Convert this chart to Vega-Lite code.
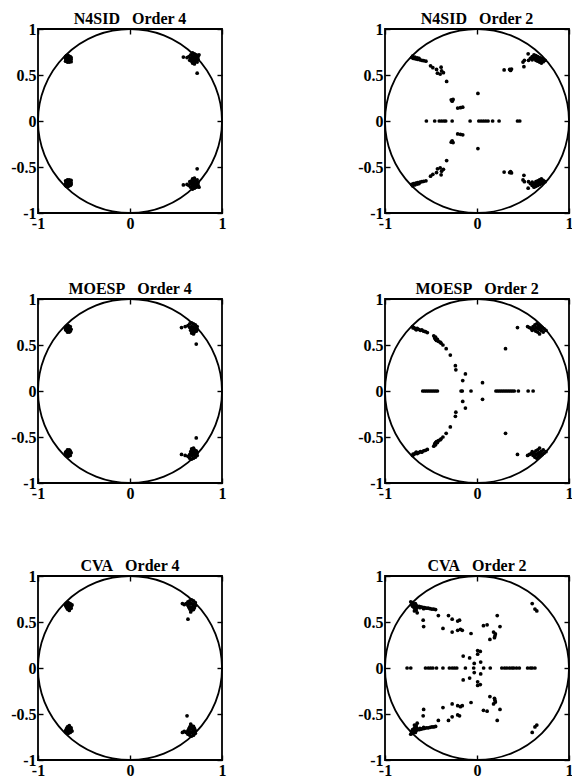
{
"$schema":"https://vega.github.io/schema/vega-lite/v6.json",
"padding":{"left":9,"top":10,"right":0,"bottom":0},
"background":"white",
"config":{
 "view":{"stroke":"black","strokeWidth":1.8},
 "axis":{"grid":false,"domain":false,"tickColor":"black","tickSize":-5,"tickWidth":1.4,"labelFont":"Liberation Serif","labelFontSize":16,"labelFontWeight":"bold","labelColor":"black","labelPadding":7,"labelFlush":false},
 "title":{"font":"Liberation Serif","fontSize":16,"fontWeight":"bold","color":"black","offset":-6,"anchor":"middle"}
},
"datasets":{
 "origin":[{"x":0,"y":0}],
 "n4":[
{"x":-0.70,"y":0.70},{"x":-0.69,"y":0.71},{"x":-0.67,"y":0.71},{"x":-0.65,"y":0.70},{"x":-0.64,"y":0.69},{"x":-0.70,"y":0.68},{"x":-0.68,"y":0.68},{"x":-0.66,"y":0.68},{"x":-0.64,"y":0.67},{"x":-0.69,"y":0.66},{"x":-0.67,"y":0.66},{"x":-0.65,"y":0.65},{"x":-0.70,"y":0.65},{"x":-0.68,"y":0.64},{"x":-0.66,"y":0.64},{"x":-0.64,"y":0.645},{"x":-0.67,"y":0.69},{"x":-0.65,"y":0.675},{"x":-0.69,"y":0.69},{"x":-0.66,"y":0.655},
{"x":0.64,"y":0.70},{"x":0.66,"y":0.72},{"x":0.68,"y":0.74},{"x":0.70,"y":0.73},{"x":0.72,"y":0.72},{"x":0.74,"y":0.70},{"x":0.66,"y":0.68},{"x":0.68,"y":0.70},{"x":0.70,"y":0.69},{"x":0.72,"y":0.68},{"x":0.74,"y":0.67},{"x":0.67,"y":0.65},{"x":0.69,"y":0.66},{"x":0.71,"y":0.65},{"x":0.73,"y":0.64},{"x":0.68,"y":0.63},{"x":0.70,"y":0.62},{"x":0.62,"y":0.69},{"x":0.58,"y":0.695},{"x":0.75,"y":0.72},{"x":0.65,"y":0.66},{"x":0.73,"y":0.52},{"x":0.69,"y":0.68},{"x":0.71,"y":0.71},
{"x":-0.70,"y":-0.70},{"x":-0.69,"y":-0.71},{"x":-0.67,"y":-0.71},{"x":-0.65,"y":-0.70},{"x":-0.64,"y":-0.69},{"x":-0.70,"y":-0.68},{"x":-0.68,"y":-0.68},{"x":-0.66,"y":-0.68},{"x":-0.64,"y":-0.67},{"x":-0.69,"y":-0.66},{"x":-0.67,"y":-0.66},{"x":-0.65,"y":-0.65},{"x":-0.70,"y":-0.65},{"x":-0.68,"y":-0.64},{"x":-0.66,"y":-0.64},{"x":-0.64,"y":-0.645},{"x":-0.67,"y":-0.69},{"x":-0.65,"y":-0.675},{"x":-0.69,"y":-0.69},{"x":-0.66,"y":-0.655},
{"x":0.64,"y":-0.70},{"x":0.66,"y":-0.72},{"x":0.68,"y":-0.74},{"x":0.70,"y":-0.73},{"x":0.72,"y":-0.72},{"x":0.74,"y":-0.70},{"x":0.66,"y":-0.68},{"x":0.68,"y":-0.70},{"x":0.70,"y":-0.69},{"x":0.72,"y":-0.68},{"x":0.74,"y":-0.67},{"x":0.67,"y":-0.65},{"x":0.69,"y":-0.66},{"x":0.71,"y":-0.65},{"x":0.73,"y":-0.64},{"x":0.68,"y":-0.63},{"x":0.70,"y":-0.62},{"x":0.62,"y":-0.69},{"x":0.58,"y":-0.695},{"x":0.75,"y":-0.72},{"x":0.65,"y":-0.66},{"x":0.73,"y":-0.52},{"x":0.69,"y":-0.68},{"x":0.71,"y":-0.71}
 ],
 "m4":[
{"x":-0.69,"y":0.70},{"x":-0.67,"y":0.71},{"x":-0.65,"y":0.70},{"x":-0.70,"y":0.68},{"x":-0.68,"y":0.68},{"x":-0.66,"y":0.68},{"x":-0.64,"y":0.67},{"x":-0.69,"y":0.66},{"x":-0.67,"y":0.66},{"x":-0.65,"y":0.65},{"x":-0.68,"y":0.64},{"x":-0.66,"y":0.64},{"x":-0.67,"y":0.69},{"x":-0.65,"y":0.675},{"x":-0.70,"y":0.665},{"x":-0.66,"y":0.655},
{"x":0.56,"y":0.69},{"x":0.60,"y":0.70},{"x":0.63,"y":0.71},{"x":0.65,"y":0.73},{"x":0.67,"y":0.74},{"x":0.69,"y":0.73},{"x":0.71,"y":0.72},{"x":0.73,"y":0.70},{"x":0.65,"y":0.69},{"x":0.67,"y":0.70},{"x":0.69,"y":0.69},{"x":0.71,"y":0.68},{"x":0.73,"y":0.67},{"x":0.66,"y":0.66},{"x":0.68,"y":0.65},{"x":0.70,"y":0.64},{"x":0.72,"y":0.65},{"x":0.67,"y":0.63},{"x":0.69,"y":0.62},{"x":0.70,"y":0.66},{"x":0.68,"y":0.67},{"x":0.72,"y":0.51},
{"x":-0.69,"y":-0.70},{"x":-0.67,"y":-0.71},{"x":-0.65,"y":-0.70},{"x":-0.70,"y":-0.68},{"x":-0.68,"y":-0.68},{"x":-0.66,"y":-0.68},{"x":-0.64,"y":-0.67},{"x":-0.69,"y":-0.66},{"x":-0.67,"y":-0.66},{"x":-0.65,"y":-0.65},{"x":-0.68,"y":-0.64},{"x":-0.66,"y":-0.64},{"x":-0.67,"y":-0.69},{"x":-0.65,"y":-0.675},{"x":-0.70,"y":-0.665},{"x":-0.66,"y":-0.655},
{"x":0.56,"y":-0.69},{"x":0.60,"y":-0.70},{"x":0.63,"y":-0.71},{"x":0.65,"y":-0.73},{"x":0.67,"y":-0.74},{"x":0.69,"y":-0.73},{"x":0.71,"y":-0.72},{"x":0.73,"y":-0.70},{"x":0.65,"y":-0.69},{"x":0.67,"y":-0.70},{"x":0.69,"y":-0.69},{"x":0.71,"y":-0.68},{"x":0.73,"y":-0.67},{"x":0.66,"y":-0.66},{"x":0.68,"y":-0.65},{"x":0.70,"y":-0.64},{"x":0.72,"y":-0.65},{"x":0.67,"y":-0.63},{"x":0.69,"y":-0.62},{"x":0.70,"y":-0.66},{"x":0.68,"y":-0.67},{"x":0.72,"y":-0.51}
 ],
 "c4":[
{"x":-0.69,"y":0.70},{"x":-0.67,"y":0.71},{"x":-0.65,"y":0.70},{"x":-0.63,"y":0.685},{"x":-0.70,"y":0.68},{"x":-0.68,"y":0.68},{"x":-0.66,"y":0.68},{"x":-0.64,"y":0.67},{"x":-0.69,"y":0.66},{"x":-0.67,"y":0.66},{"x":-0.65,"y":0.65},{"x":-0.68,"y":0.64},{"x":-0.66,"y":0.64},{"x":-0.64,"y":0.65},{"x":-0.67,"y":0.69},{"x":-0.66,"y":0.625},
{"x":0.57,"y":0.70},{"x":0.59,"y":0.69},{"x":0.61,"y":0.70},{"x":0.63,"y":0.72},{"x":0.65,"y":0.73},{"x":0.67,"y":0.74},{"x":0.69,"y":0.73},{"x":0.71,"y":0.71},{"x":0.63,"y":0.68},{"x":0.65,"y":0.70},{"x":0.67,"y":0.70},{"x":0.69,"y":0.69},{"x":0.71,"y":0.68},{"x":0.64,"y":0.66},{"x":0.66,"y":0.665},{"x":0.68,"y":0.66},{"x":0.70,"y":0.655},{"x":0.65,"y":0.64},{"x":0.67,"y":0.63},{"x":0.69,"y":0.635},{"x":0.66,"y":0.61},{"x":0.63,"y":0.53},
{"x":-0.69,"y":-0.70},{"x":-0.67,"y":-0.71},{"x":-0.65,"y":-0.70},{"x":-0.63,"y":-0.685},{"x":-0.70,"y":-0.68},{"x":-0.68,"y":-0.68},{"x":-0.66,"y":-0.68},{"x":-0.64,"y":-0.67},{"x":-0.69,"y":-0.66},{"x":-0.67,"y":-0.66},{"x":-0.65,"y":-0.65},{"x":-0.68,"y":-0.64},{"x":-0.66,"y":-0.64},{"x":-0.64,"y":-0.65},{"x":-0.67,"y":-0.69},{"x":-0.66,"y":-0.625},
{"x":0.57,"y":-0.70},{"x":0.59,"y":-0.69},{"x":0.61,"y":-0.70},{"x":0.63,"y":-0.72},{"x":0.65,"y":-0.73},{"x":0.67,"y":-0.74},{"x":0.69,"y":-0.73},{"x":0.71,"y":-0.71},{"x":0.63,"y":-0.68},{"x":0.65,"y":-0.70},{"x":0.67,"y":-0.70},{"x":0.69,"y":-0.69},{"x":0.71,"y":-0.68},{"x":0.64,"y":-0.66},{"x":0.66,"y":-0.665},{"x":0.68,"y":-0.66},{"x":0.70,"y":-0.655},{"x":0.65,"y":-0.64},{"x":0.67,"y":-0.63},{"x":0.69,"y":-0.635},{"x":0.66,"y":-0.61},{"x":0.62,"y":-0.52}
 ],
 "n2":[
{"x":-0.71,"y":0.69},{"x":-0.69,"y":0.68},{"x":-0.665,"y":0.675},{"x":-0.645,"y":0.67},{"x":-0.62,"y":0.665},{"x":-0.60,"y":0.66},{"x":-0.58,"y":0.655},{"x":-0.555,"y":0.65},{"x":-0.70,"y":0.705},{"x":-0.675,"y":0.695},{"x":-0.65,"y":0.685},{"x":-0.63,"y":0.68},
{"x":-0.505,"y":0.60},{"x":-0.48,"y":0.58},
{"x":-0.44,"y":0.56},{"x":-0.43,"y":0.52},{"x":-0.39,"y":0.585},{"x":-0.365,"y":0.525},{"x":-0.40,"y":0.51},{"x":-0.385,"y":0.545},
{"x":-0.33,"y":0.43},
{"x":-0.28,"y":0.23},{"x":-0.26,"y":0.235},{"x":-0.27,"y":0.215},
{"x":-0.21,"y":0.14},{"x":-0.18,"y":0.145},{"x":-0.155,"y":0.15},
{"x":0.01,"y":0.30},
{"x":0.295,"y":0.555},{"x":0.355,"y":0.56},{"x":0.375,"y":0.565},{"x":0.365,"y":0.55},
{"x":0.51,"y":0.59},{"x":0.50,"y":0.64},{"x":0.515,"y":0.66},{"x":0.556,"y":0.73},
{"x":0.56,"y":0.66},{"x":0.58,"y":0.68},{"x":0.60,"y":0.70},{"x":0.62,"y":0.72},{"x":0.64,"y":0.71},{"x":0.66,"y":0.70},{"x":0.68,"y":0.69},{"x":0.70,"y":0.68},{"x":0.72,"y":0.67},{"x":0.74,"y":0.66},{"x":0.62,"y":0.68},{"x":0.64,"y":0.66},{"x":0.66,"y":0.65},{"x":0.68,"y":0.64},{"x":0.70,"y":0.63},{"x":0.72,"y":0.645},{"x":0.66,"y":0.68},{"x":0.70,"y":0.66},{"x":0.60,"y":0.665},{"x":0.68,"y":0.665},{"x":0.64,"y":0.69},
{"x":-0.55,"y":0},{"x":-0.46,"y":0},{"x":-0.41,"y":0},{"x":-0.385,"y":0},{"x":-0.36,"y":0},{"x":-0.34,"y":0},{"x":-0.27,"y":0},{"x":-0.075,"y":0},{"x":0.02,"y":0},{"x":0.045,"y":0},{"x":0.07,"y":0},{"x":0.095,"y":0},{"x":0.12,"y":0},{"x":0.17,"y":0},{"x":0.24,"y":0},{"x":0.44,"y":0},{"x":0.465,"y":0},
{"x":-0.71,"y":-0.69},{"x":-0.69,"y":-0.68},{"x":-0.665,"y":-0.675},{"x":-0.645,"y":-0.67},{"x":-0.62,"y":-0.665},{"x":-0.60,"y":-0.66},{"x":-0.58,"y":-0.655},{"x":-0.555,"y":-0.65},{"x":-0.70,"y":-0.705},{"x":-0.675,"y":-0.695},{"x":-0.65,"y":-0.685},{"x":-0.63,"y":-0.68},
{"x":-0.505,"y":-0.60},{"x":-0.48,"y":-0.58},
{"x":-0.44,"y":-0.56},{"x":-0.43,"y":-0.52},{"x":-0.39,"y":-0.585},{"x":-0.365,"y":-0.525},{"x":-0.40,"y":-0.51},{"x":-0.385,"y":-0.545},
{"x":-0.33,"y":-0.43},
{"x":-0.28,"y":-0.23},{"x":-0.26,"y":-0.235},{"x":-0.27,"y":-0.215},
{"x":-0.21,"y":-0.14},{"x":-0.18,"y":-0.145},{"x":-0.155,"y":-0.15},
{"x":0.01,"y":-0.30},
{"x":0.295,"y":-0.555},{"x":0.355,"y":-0.56},{"x":0.375,"y":-0.565},{"x":0.365,"y":-0.55},
{"x":0.51,"y":-0.59},{"x":0.50,"y":-0.64},{"x":0.515,"y":-0.66},{"x":0.556,"y":-0.73},
{"x":0.56,"y":-0.66},{"x":0.58,"y":-0.68},{"x":0.60,"y":-0.70},{"x":0.62,"y":-0.72},{"x":0.64,"y":-0.71},{"x":0.66,"y":-0.70},{"x":0.68,"y":-0.69},{"x":0.70,"y":-0.68},{"x":0.72,"y":-0.67},{"x":0.74,"y":-0.66},{"x":0.62,"y":-0.68},{"x":0.64,"y":-0.66},{"x":0.66,"y":-0.65},{"x":0.68,"y":-0.64},{"x":0.70,"y":-0.63},{"x":0.72,"y":-0.645},{"x":0.66,"y":-0.68},{"x":0.70,"y":-0.66},{"x":0.60,"y":-0.665},{"x":0.68,"y":-0.665},{"x":0.64,"y":-0.69}
 ],
 "m2":[
{"x":-0.70,"y":0.70},{"x":-0.685,"y":0.69},{"x":-0.67,"y":0.675},{"x":-0.65,"y":0.68},{"x":-0.635,"y":0.67},{"x":-0.615,"y":0.66},{"x":-0.60,"y":0.665},{"x":-0.58,"y":0.65},{"x":-0.56,"y":0.645},{"x":-0.54,"y":0.635},{"x":-0.695,"y":0.685},{"x":-0.66,"y":0.665},
{"x":-0.47,"y":0.60},{"x":-0.46,"y":0.575},{"x":-0.45,"y":0.56},{"x":-0.44,"y":0.55},{"x":-0.42,"y":0.54},{"x":-0.40,"y":0.53},{"x":-0.39,"y":0.52},{"x":-0.37,"y":0.50},{"x":-0.45,"y":0.585},{"x":-0.43,"y":0.56},
{"x":-0.335,"y":0.46},{"x":-0.29,"y":0.39},{"x":-0.235,"y":0.275},{"x":-0.23,"y":0.23},{"x":-0.126,"y":0.186},{"x":-0.155,"y":0.114},{"x":0.06,"y":0.09},
{"x":0.44,"y":0.69},{"x":0.31,"y":0.46},
{"x":0.55,"y":0.70},{"x":0.57,"y":0.69},{"x":0.59,"y":0.68},{"x":0.61,"y":0.70},{"x":0.63,"y":0.72},{"x":0.65,"y":0.73},{"x":0.67,"y":0.71},{"x":0.69,"y":0.70},{"x":0.71,"y":0.69},{"x":0.73,"y":0.675},{"x":0.62,"y":0.67},{"x":0.64,"y":0.65},{"x":0.66,"y":0.64},{"x":0.68,"y":0.62},{"x":0.70,"y":0.655},{"x":0.72,"y":0.64},{"x":0.66,"y":0.68},{"x":0.60,"y":0.66},{"x":0.68,"y":0.67},{"x":0.64,"y":0.69},{"x":0.75,"y":0.66},
{"x":-0.59,"y":0},{"x":-0.57,"y":0},{"x":-0.55,"y":0},{"x":-0.53,"y":0},{"x":-0.51,"y":0},{"x":-0.49,"y":0},{"x":-0.47,"y":0},{"x":-0.45,"y":0},{"x":-0.43,"y":0},{"x":-0.173,"y":0},{"x":-0.16,"y":0},{"x":-0.065,"y":0},{"x":0.206,"y":0},{"x":0.225,"y":0},{"x":0.245,"y":0},{"x":0.265,"y":0},{"x":0.285,"y":0},{"x":0.305,"y":0},{"x":0.325,"y":0},{"x":0.345,"y":0},{"x":0.365,"y":0},{"x":0.385,"y":0},{"x":0.405,"y":0},{"x":0.45,"y":0},{"x":0.556,"y":0},{"x":0.61,"y":0},
{"x":-0.70,"y":-0.70},{"x":-0.685,"y":-0.69},{"x":-0.67,"y":-0.675},{"x":-0.65,"y":-0.68},{"x":-0.635,"y":-0.67},{"x":-0.615,"y":-0.66},{"x":-0.60,"y":-0.665},{"x":-0.58,"y":-0.65},{"x":-0.56,"y":-0.645},{"x":-0.54,"y":-0.635},{"x":-0.695,"y":-0.685},{"x":-0.66,"y":-0.665},
{"x":-0.47,"y":-0.60},{"x":-0.46,"y":-0.575},{"x":-0.45,"y":-0.56},{"x":-0.44,"y":-0.55},{"x":-0.42,"y":-0.54},{"x":-0.40,"y":-0.53},{"x":-0.39,"y":-0.52},{"x":-0.37,"y":-0.50},{"x":-0.45,"y":-0.585},{"x":-0.43,"y":-0.56},
{"x":-0.335,"y":-0.46},{"x":-0.29,"y":-0.39},{"x":-0.235,"y":-0.275},{"x":-0.23,"y":-0.23},{"x":-0.126,"y":-0.186},{"x":-0.155,"y":-0.114},{"x":0.06,"y":-0.09},
{"x":0.44,"y":-0.69},{"x":0.31,"y":-0.46},
{"x":0.55,"y":-0.70},{"x":0.57,"y":-0.69},{"x":0.59,"y":-0.68},{"x":0.61,"y":-0.70},{"x":0.63,"y":-0.72},{"x":0.65,"y":-0.73},{"x":0.67,"y":-0.71},{"x":0.69,"y":-0.70},{"x":0.71,"y":-0.69},{"x":0.73,"y":-0.675},{"x":0.62,"y":-0.67},{"x":0.64,"y":-0.65},{"x":0.66,"y":-0.64},{"x":0.68,"y":-0.62},{"x":0.70,"y":-0.655},{"x":0.72,"y":-0.64},{"x":0.66,"y":-0.68},{"x":0.60,"y":-0.66},{"x":0.68,"y":-0.67},{"x":0.64,"y":-0.69},{"x":0.75,"y":-0.66}
 ],
 "c2":[
{"x":-0.72,"y":0.72},{"x":-0.70,"y":0.71},{"x":-0.69,"y":0.69},{"x":-0.70,"y":0.67},{"x":-0.68,"y":0.65},{"x":-0.67,"y":0.70},{"x":-0.66,"y":0.68},{"x":-0.65,"y":0.66},{"x":-0.68,"y":0.62},{"x":-0.66,"y":0.63},{"x":-0.65,"y":0.60},{"x":-0.71,"y":0.69},{"x":-0.67,"y":0.66},
{"x":-0.63,"y":0.67},{"x":-0.61,"y":0.665},{"x":-0.59,"y":0.66},{"x":-0.57,"y":0.655},{"x":-0.55,"y":0.65},{"x":-0.53,"y":0.65},{"x":-0.51,"y":0.645},{"x":-0.49,"y":0.64},{"x":-0.47,"y":0.64},{"x":-0.45,"y":0.635},{"x":-0.62,"y":0.655},{"x":-0.58,"y":0.645},
{"x":-0.585,"y":0.52},{"x":-0.58,"y":0.45},{"x":-0.42,"y":0.57},
{"x":-0.31,"y":0.57},{"x":-0.27,"y":0.53},{"x":-0.21,"y":0.51},{"x":-0.19,"y":0.52},
{"x":-0.37,"y":0.43},{"x":-0.27,"y":0.39},{"x":-0.21,"y":0.41},{"x":-0.18,"y":0.42},{"x":-0.16,"y":0.41},
{"x":-0.065,"y":0.375},{"x":0.07,"y":0.46},{"x":0.11,"y":0.47},{"x":0.22,"y":0.57},{"x":0.25,"y":0.45},
{"x":0.18,"y":0.39},{"x":0.20,"y":0.37},{"x":0.19,"y":0.33},{"x":0.14,"y":0.31},{"x":0.195,"y":0.35},
{"x":0.60,"y":0.70},{"x":0.63,"y":0.64},{"x":0.65,"y":0.62},
{"x":-0.15,"y":0.13},{"x":-0.08,"y":0.11},{"x":0.007,"y":0.19},{"x":0.036,"y":0.18},{"x":0.007,"y":0.15},{"x":-0.03,"y":0.05},{"x":0.04,"y":0.064},
{"x":-0.76,"y":0},{"x":-0.72,"y":0},{"x":-0.56,"y":0},{"x":-0.53,"y":0},{"x":-0.505,"y":0},{"x":-0.48,"y":0},{"x":-0.44,"y":0},{"x":-0.37,"y":0},{"x":-0.30,"y":0},{"x":-0.27,"y":0},{"x":-0.245,"y":0},{"x":-0.22,"y":0},{"x":-0.126,"y":0},{"x":-0.036,"y":0},{"x":0.072,"y":0},{"x":0.144,"y":0},{"x":0.27,"y":0},{"x":0.30,"y":0},{"x":0.325,"y":0},{"x":0.354,"y":0},{"x":0.38,"y":0},{"x":0.40,"y":0},{"x":0.43,"y":0},{"x":0.46,"y":0},{"x":0.55,"y":0},{"x":0.58,"y":0},{"x":0.60,"y":0},{"x":0.63,"y":0},
{"x":-0.72,"y":-0.72},{"x":-0.70,"y":-0.71},{"x":-0.69,"y":-0.69},{"x":-0.70,"y":-0.67},{"x":-0.68,"y":-0.65},{"x":-0.67,"y":-0.70},{"x":-0.66,"y":-0.68},{"x":-0.65,"y":-0.66},{"x":-0.68,"y":-0.62},{"x":-0.66,"y":-0.63},{"x":-0.65,"y":-0.60},{"x":-0.71,"y":-0.69},{"x":-0.67,"y":-0.66},
{"x":-0.63,"y":-0.67},{"x":-0.61,"y":-0.665},{"x":-0.59,"y":-0.66},{"x":-0.57,"y":-0.655},{"x":-0.55,"y":-0.65},{"x":-0.53,"y":-0.65},{"x":-0.51,"y":-0.645},{"x":-0.49,"y":-0.64},{"x":-0.47,"y":-0.64},{"x":-0.45,"y":-0.635},{"x":-0.62,"y":-0.655},{"x":-0.58,"y":-0.645},
{"x":-0.585,"y":-0.52},{"x":-0.58,"y":-0.45},{"x":-0.42,"y":-0.57},
{"x":-0.31,"y":-0.57},{"x":-0.27,"y":-0.53},{"x":-0.21,"y":-0.51},{"x":-0.19,"y":-0.52},
{"x":-0.37,"y":-0.43},{"x":-0.27,"y":-0.39},{"x":-0.21,"y":-0.41},{"x":-0.18,"y":-0.42},{"x":-0.16,"y":-0.41},
{"x":-0.065,"y":-0.375},{"x":0.07,"y":-0.46},{"x":0.11,"y":-0.47},{"x":0.22,"y":-0.57},{"x":0.25,"y":-0.45},
{"x":0.18,"y":-0.39},{"x":0.20,"y":-0.37},{"x":0.19,"y":-0.33},{"x":0.14,"y":-0.31},{"x":0.195,"y":-0.35},
{"x":0.60,"y":-0.70},{"x":0.63,"y":-0.64},{"x":0.65,"y":-0.62},
{"x":-0.15,"y":-0.13},{"x":-0.08,"y":-0.11},{"x":0.007,"y":-0.19},{"x":0.036,"y":-0.18},{"x":0.007,"y":-0.15},{"x":-0.03,"y":-0.05},{"x":0.04,"y":-0.064}
 ]
},
"vconcat":[
 {"vconcat":[
  {"hconcat":[
   {"width":184,"height":184,"title":"N4SID\u00a0\u00a0 Order 4","layer":[
    {"data":{"name":"origin"},"mark":{"type":"point","shape":"circle","size":33856,"filled":false,"color":"black","strokeWidth":1.8,"opacity":1},
     "encoding":{"x":{"field":"x","type":"quantitative","scale":{"domain":[-1,1]},"axis":{"title":null,"values":[-1,0,1],"orient":"bottom","labelExpr":"datum.value < 0 ? '-' + (-datum.value) : '' + datum.value"}},
                 "y":{"field":"y","type":"quantitative","scale":{"domain":[-1,1]},"axis":{"title":null,"values":[-1,-0.5,0,0.5,1],"orient":"left","labelExpr":"datum.value < 0 ? '-' + (-datum.value) : '' + datum.value"}}}},
    {"data":{"name":"n4"},"mark":{"type":"circle","size":14,"color":"black","opacity":1},
     "encoding":{"x":{"field":"x","type":"quantitative","axis":{"title":null,"values":[-1,0,1],"orient":"top","labels":false,"labelPadding":0,"minExtent":0,"maxExtent":0}},
                 "y":{"field":"y","type":"quantitative","axis":{"title":null,"values":[-1,-0.5,0,0.5,1],"orient":"right","labels":false,"labelPadding":0,"minExtent":0,"maxExtent":0}}}}
   ],"resolve":{"axis":{"x":"independent","y":"independent"}}},
   {"width":184,"height":184,"title":"N4SID\u00a0\u00a0 Order 2","layer":[
    {"data":{"name":"origin"},"mark":{"type":"point","shape":"circle","size":33856,"filled":false,"color":"black","strokeWidth":1.8,"opacity":1},
     "encoding":{"x":{"field":"x","type":"quantitative","scale":{"domain":[-1,1]},"axis":{"title":null,"values":[-1,0,1],"orient":"bottom","labelExpr":"datum.value < 0 ? '-' + (-datum.value) : '' + datum.value"}},
                 "y":{"field":"y","type":"quantitative","scale":{"domain":[-1,1]},"axis":{"title":null,"values":[-1,-0.5,0,0.5,1],"orient":"left","labelExpr":"datum.value < 0 ? '-' + (-datum.value) : '' + datum.value"}}}},
    {"data":{"name":"n2"},"mark":{"type":"circle","size":14,"color":"black","opacity":1},
     "encoding":{"x":{"field":"x","type":"quantitative","axis":{"title":null,"values":[-1,0,1],"orient":"top","labels":false,"labelPadding":0,"minExtent":0,"maxExtent":0}},
                 "y":{"field":"y","type":"quantitative","axis":{"title":null,"values":[-1,-0.5,0,0.5,1],"orient":"right","labels":false,"labelPadding":0,"minExtent":0,"maxExtent":0}}}}
   ],"resolve":{"axis":{"x":"independent","y":"independent"}}}
  ],"spacing":129},
  {"hconcat":[
   {"width":184,"height":184,"title":"MOESP\u00a0\u00a0 Order 4","layer":[
    {"data":{"name":"origin"},"mark":{"type":"point","shape":"circle","size":33856,"filled":false,"color":"black","strokeWidth":1.8,"opacity":1},
     "encoding":{"x":{"field":"x","type":"quantitative","scale":{"domain":[-1,1]},"axis":{"title":null,"values":[-1,0,1],"orient":"bottom","labelExpr":"datum.value < 0 ? '-' + (-datum.value) : '' + datum.value"}},
                 "y":{"field":"y","type":"quantitative","scale":{"domain":[-1,1]},"axis":{"title":null,"values":[-1,-0.5,0,0.5,1],"orient":"left","labelExpr":"datum.value < 0 ? '-' + (-datum.value) : '' + datum.value"}}}},
    {"data":{"name":"m4"},"mark":{"type":"circle","size":14,"color":"black","opacity":1},
     "encoding":{"x":{"field":"x","type":"quantitative","axis":{"title":null,"values":[-1,0,1],"orient":"top","labels":false,"labelPadding":0,"minExtent":0,"maxExtent":0}},
                 "y":{"field":"y","type":"quantitative","axis":{"title":null,"values":[-1,-0.5,0,0.5,1],"orient":"right","labels":false,"labelPadding":0,"minExtent":0,"maxExtent":0}}}}
   ],"resolve":{"axis":{"x":"independent","y":"independent"}}},
   {"width":184,"height":184,"title":"MOESP\u00a0\u00a0 Order 2","layer":[
    {"data":{"name":"origin"},"mark":{"type":"point","shape":"circle","size":33856,"filled":false,"color":"black","strokeWidth":1.8,"opacity":1},
     "encoding":{"x":{"field":"x","type":"quantitative","scale":{"domain":[-1,1]},"axis":{"title":null,"values":[-1,0,1],"orient":"bottom","labelExpr":"datum.value < 0 ? '-' + (-datum.value) : '' + datum.value"}},
                 "y":{"field":"y","type":"quantitative","scale":{"domain":[-1,1]},"axis":{"title":null,"values":[-1,-0.5,0,0.5,1],"orient":"left","labelExpr":"datum.value < 0 ? '-' + (-datum.value) : '' + datum.value"}}}},
    {"data":{"name":"m2"},"mark":{"type":"circle","size":14,"color":"black","opacity":1},
     "encoding":{"x":{"field":"x","type":"quantitative","axis":{"title":null,"values":[-1,0,1],"orient":"top","labels":false,"labelPadding":0,"minExtent":0,"maxExtent":0}},
                 "y":{"field":"y","type":"quantitative","axis":{"title":null,"values":[-1,-0.5,0,0.5,1],"orient":"right","labels":false,"labelPadding":0,"minExtent":0,"maxExtent":0}}}}
   ],"resolve":{"axis":{"x":"independent","y":"independent"}}}
  ],"spacing":129}
 ],"spacing":48},
 {"hconcat":[
   {"width":184,"height":184,"title":"CVA\u00a0\u00a0 Order 4","layer":[
    {"data":{"name":"origin"},"mark":{"type":"point","shape":"circle","size":33856,"filled":false,"color":"black","strokeWidth":1.8,"opacity":1},
     "encoding":{"x":{"field":"x","type":"quantitative","scale":{"domain":[-1,1]},"axis":{"title":null,"values":[-1,0,1],"orient":"bottom","labelExpr":"datum.value < 0 ? '-' + (-datum.value) : '' + datum.value"}},
                 "y":{"field":"y","type":"quantitative","scale":{"domain":[-1,1]},"axis":{"title":null,"values":[-1,-0.5,0,0.5,1],"orient":"left","labelExpr":"datum.value < 0 ? '-' + (-datum.value) : '' + datum.value"}}}},
    {"data":{"name":"c4"},"mark":{"type":"circle","size":14,"color":"black","opacity":1},
     "encoding":{"x":{"field":"x","type":"quantitative","axis":{"title":null,"values":[-1,0,1],"orient":"top","labels":false,"labelPadding":0,"minExtent":0,"maxExtent":0}},
                 "y":{"field":"y","type":"quantitative","axis":{"title":null,"values":[-1,-0.5,0,0.5,1],"orient":"right","labels":false,"labelPadding":0,"minExtent":0,"maxExtent":0}}}}
   ],"resolve":{"axis":{"x":"independent","y":"independent"}}},
   {"width":184,"height":184,"title":"CVA\u00a0\u00a0 Order 2","layer":[
    {"data":{"name":"origin"},"mark":{"type":"point","shape":"circle","size":33856,"filled":false,"color":"black","strokeWidth":1.8,"opacity":1},
     "encoding":{"x":{"field":"x","type":"quantitative","scale":{"domain":[-1,1]},"axis":{"title":null,"values":[-1,0,1],"orient":"bottom","labelExpr":"datum.value < 0 ? '-' + (-datum.value) : '' + datum.value"}},
                 "y":{"field":"y","type":"quantitative","scale":{"domain":[-1,1]},"axis":{"title":null,"values":[-1,-0.5,0,0.5,1],"orient":"left","labelExpr":"datum.value < 0 ? '-' + (-datum.value) : '' + datum.value"}}}},
    {"data":{"name":"c2"},"mark":{"type":"circle","size":14,"color":"black","opacity":1},
     "encoding":{"x":{"field":"x","type":"quantitative","axis":{"title":null,"values":[-1,0,1],"orient":"top","labels":false,"labelPadding":0,"minExtent":0,"maxExtent":0}},
                 "y":{"field":"y","type":"quantitative","axis":{"title":null,"values":[-1,-0.5,0,0.5,1],"orient":"right","labels":false,"labelPadding":0,"minExtent":0,"maxExtent":0}}}}
   ],"resolve":{"axis":{"x":"independent","y":"independent"}}}
 ],"spacing":129}
],"spacing":55
}
